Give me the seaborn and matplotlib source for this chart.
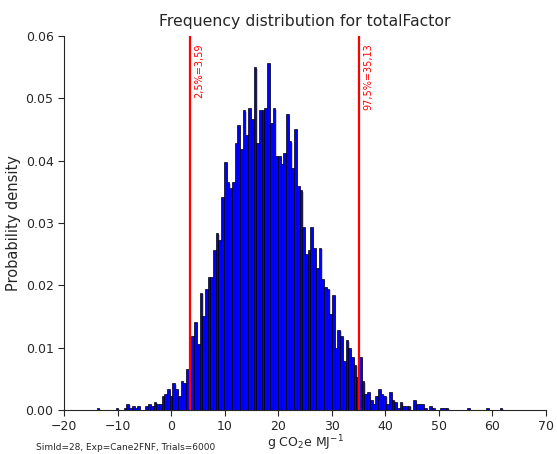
import numpy as np
import pandas as pd
import seaborn as sns
import matplotlib
matplotlib.use('Agg')
import matplotlib.pyplot as plt
import matplotlib.patheffects as pe

# Monte Carlo result, 6000 trials, 150 equal bins between min and max
x_min, x_max = -13.89, 61.86
counts = [
    1, 0, 0, 0, 0, 0, 0, 1, 0, 0,            # bins 0-9
    1, 3, 1, 2, 1, 2, 0, 0, 2, 3,            # 10-19
    2, 4, 3, 3, 7, 8, 10, 7, 13, 10,         # 20-29
    7, 14, 13, 20, 20, 36, 43, 32, 57, 46,   # 30-39
    59, 65, 65, 78, 86, 83, 104, 121, 111, 108,   # 40-49
    111, 130, 139, 127, 146, 134, 147, 142, 167, 130,  # 50-59
    146, 146, 147, 169, 140, 147, 124, 124, 120, 125,  # 60-69
    144, 131, 118, 137, 109, 107, 89, 76, 78, 89,      # 70-79
    79, 69, 79, 64, 60, 59, 47, 56, 30, 39,            # 80-89
    36, 24, 34, 30, 26, 22, 16, 26, 14, 8,             # 90-99
    9, 5, 3, 7, 10, 8, 7, 3, 9, 5,                     # 100-109
    4, 1, 4, 2, 2, 2, 0, 5, 3, 3,                      # 110-119
    3, 1, 0, 2, 1, 0, 0, 1, 1, 1,                      # 120-129
    0, 0, 0, 0, 0, 0, 0, 1, 0, 0,                      # 130-139
    0, 0, 0, 0, 1, 0, 0, 0, 0, 1,                      # 140-149
]
p_low, p_high = 3.59, 35.13
low_label = '2,5%=3,59'
high_label = '97,5%=35,13'
sim_info = 'SimId=28, Exp=Cane2FNF, Trials=6000'

edges = np.linspace(x_min, x_max, len(counts) + 1)
df = pd.DataFrame({'value': (edges[:-1] + edges[1:]) / 2, 'n': counts})

sns.set_style('ticks')
fig = plt.figure(figsize=(5.57, 4.54), dpi=100)
ax = fig.add_axes([0.1149, 0.0969, 0.8654, 0.8238])

# bins passed as a list (seaborn compares bins == "auto" when weights are used)
sns.histplot(data=df, x='value', weights='n', bins=edges.tolist(), stat='density',
             color='#0000ff', alpha=1, edgecolor='black', linewidth=0.5, ax=ax)
for p in ax.patches:
    p.set_path_effects([pe.SimplePatchShadow(offset=(1, -1), shadow_rgbFace='gray', alpha=0.4),
                        pe.Normal()])

for v, lab in [(p_low, low_label), (p_high, high_label)]:
    ax.axvline(v, color='red', linewidth=1.6)
    ax.text(v + 0.8, 0.0588, lab, color='red', rotation=90, fontsize=7,
            ha='left', va='top')

ax.set_xlim(-20, 70)
ax.set_ylim(0, 0.06)
ax.set_xticks(range(-20, 71, 10))
ax.set_yticks(np.arange(0, 0.061, 0.01))
ax.yaxis.set_major_formatter(matplotlib.ticker.FormatStrFormatter('%.2f'))
ax.tick_params(direction='out', labelsize=9, length=4)
sns.despine(ax=ax)

ax.set_title('Frequency distribution for totalFactor', fontsize=11.3, pad=7)
ax.set_xlabel('g CO$_2$e MJ$^{-1}$', fontsize=9, labelpad=0)
ax.set_ylabel('Probability density', fontsize=10.5, labelpad=3)
fig.text(0.064, 0.015, sim_info, fontsize=6.5, va='center')

fig.savefig('out.png', dpi=100)
